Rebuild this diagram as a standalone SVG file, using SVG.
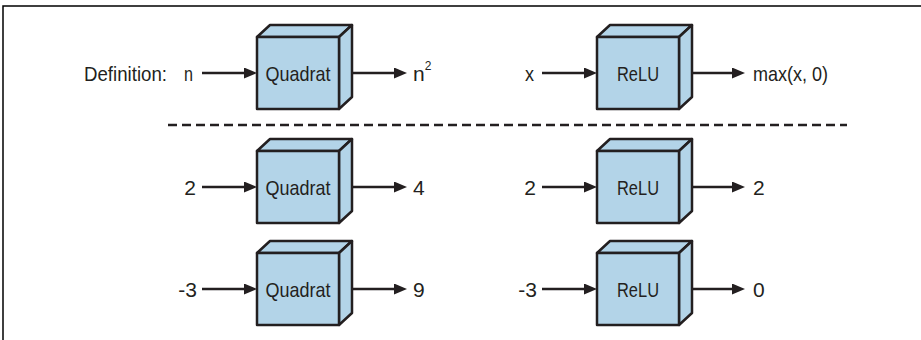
<svg xmlns="http://www.w3.org/2000/svg" width="921" height="340" viewBox="0 0 921 340">
<style>
.t{font-family:"Liberation Sans",Arial,sans-serif;font-size:21px;fill:#231f20;dominant-baseline:central}
.c{text-anchor:middle}
.e{text-anchor:end}
.face{fill:#b3d4e8;stroke:#231f20;stroke-width:2.5;stroke-linejoin:round}
.arr{stroke:#231f20;stroke-width:2.5;fill:none;marker-end:url(#ah)}
.frame{stroke:#000;stroke-width:1.5;fill:none}
.dash{stroke:#231f20;stroke-width:2.5;stroke-dasharray:9 5;fill:none}
</style>
<defs>
<marker id="ah" viewBox="0 0 13 11" refX="8" refY="5.5" markerWidth="13" markerHeight="11" markerUnits="userSpaceOnUse" orient="auto">
<path d="M0,0 L13,5.5 L0,11 Z" fill="#231f20"/>
</marker>
<g id="cube">
<path class="face" d="M0,0 L13,-12 L95,-12 L82,0 Z"/>
<path class="face" d="M82,0 L95,-12 L95,60 L82,72 Z"/>
<rect class="face" x="0" y="0" width="82" height="72"/>
</g>
</defs>
<path class="frame" d="M3,340 L3,6 L921,6"/>
<line class="dash" x1="168" y1="125" x2="847" y2="125"/>

<g id="connectors">
<line class="arr" x1="202" y1="73" x2="252" y2="73"/>
<line class="arr" x1="353" y1="73" x2="402" y2="73"/>
<line class="arr" x1="542" y1="73" x2="592" y2="73"/>
<line class="arr" x1="692" y1="73" x2="740" y2="73"/>
<line class="arr" x1="202" y1="187" x2="252" y2="187"/>
<line class="arr" x1="353" y1="187" x2="402" y2="187"/>
<line class="arr" x1="542" y1="187" x2="592" y2="187"/>
<line class="arr" x1="692" y1="187" x2="740" y2="187"/>
<line class="arr" x1="202" y1="289" x2="252" y2="289"/>
<line class="arr" x1="353" y1="289" x2="402" y2="289"/>
<line class="arr" x1="542" y1="289" x2="592" y2="289"/>
<line class="arr" x1="692" y1="289" x2="740" y2="289"/>
</g>

<g id="labels">
<text class="t" x="84" y="73" textLength="83" lengthAdjust="spacingAndGlyphs">Definition:</text>
<text class="t" x="184" y="73" textLength="9" lengthAdjust="spacingAndGlyphs">n</text>
<text class="t" x="413" y="73">n<tspan font-size="12" dy="-7">2</tspan></text>
<text class="t" x="525" y="73" textLength="9" lengthAdjust="spacingAndGlyphs">x</text>
<text class="t" x="753" y="73" textLength="75" lengthAdjust="spacingAndGlyphs">max(x, 0)</text>
<text class="t e" x="196" y="187">2</text>
<text class="t" x="413" y="187">4</text>
<text class="t e" x="536" y="187">2</text>
<text class="t" x="753" y="187">2</text>
<text class="t e" x="197" y="289">-3</text>
<text class="t" x="413" y="289">9</text>
<text class="t e" x="537" y="289">-3</text>
<text class="t" x="753" y="289">0</text>
</g>

<g id="quadrat-def"><use href="#cube" x="257" y="37"/><text class="t c" x="298" y="73" textLength="65" lengthAdjust="spacingAndGlyphs">Quadrat</text></g>
<g id="relu-def"><use href="#cube" x="597" y="37"/><text class="t c" x="638" y="73" textLength="42" lengthAdjust="spacingAndGlyphs">ReLU</text></g>
<g id="quadrat-2"><use href="#cube" x="257" y="151"/><text class="t c" x="298" y="187" textLength="65" lengthAdjust="spacingAndGlyphs">Quadrat</text></g>
<g id="relu-2"><use href="#cube" x="597" y="151"/><text class="t c" x="638" y="187" textLength="42" lengthAdjust="spacingAndGlyphs">ReLU</text></g>
<g id="quadrat-3"><use href="#cube" x="257" y="253"/><text class="t c" x="298" y="289" textLength="65" lengthAdjust="spacingAndGlyphs">Quadrat</text></g>
<g id="relu-3"><use href="#cube" x="597" y="253"/><text class="t c" x="638" y="289" textLength="42" lengthAdjust="spacingAndGlyphs">ReLU</text></g>
</svg>
